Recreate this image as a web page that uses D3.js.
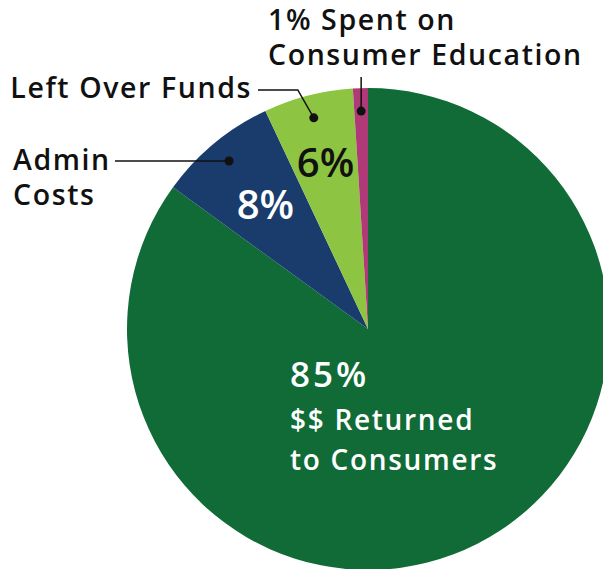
<!DOCTYPE html>
<html>
<head>
<meta charset="utf-8">
<script src="https://cdn.jsdelivr.net/npm/d3@7"></script>
<style>
    body { margin: 0; background: #fff; }
    text { font-family: "Open Sans", "Noto Sans", sans-serif; font-weight: 600; }
</style>
</head>
<body>
<div id="chart"></div>
<script>
// slices, clockwise from 12 o'clock
var categories = ['Returned to Consumers', 'Admin Costs', 'Left Over Funds', 'Consumer Education']
var values = [85, 8, 6, 1]
var colors = ['#106b37', '#1a3c6c', '#8dc543', '#b03a77']
var pctLabels = ['85%', '8%', '6%', '1%']

var W = 603, H = 569
var cx = 368, cy = 329, R = 241

var svg = d3.select('#chart').append('svg')
    .attr('width', W).attr('height', H)

var data = categories.map((c, i) => ({ cat: c, v: values[i], color: colors[i], pct: pctLabels[i] }))

var pie = d3.pie().sort(null).value(d => d.v)
var arcs = pie(data)
var arc = d3.arc().innerRadius(0).outerRadius(R)

var g = svg.append('g').attr('transform', 'translate(' + cx + ',' + cy + ')')

g.selectAll('path.slice')
    .data(arcs)
    .enter().append('path')
    .attr('class', 'slice')
    .attr('d', arc)
    .attr('fill', d => d.data.color)

// point on a slice's middle angle at radius r
function mid(d, r) {
    var a = (d.startAngle + d.endAngle) / 2
    return [Math.sin(a) * r, -Math.cos(a) * r]
}

// percent labels inside the small slices
var inside = [
    { i: 1, r: 161, fill: '#fff' },
    { i: 2, r: 171, fill: '#111' }
]
inside.forEach(o => {
    var p = mid(arcs[o.i], o.r)
    g.append('text')
        .attr('x', p[0]).attr('y', p[1] + 14)
        .attr('text-anchor', 'middle')
        .attr('font-size', 40)
        .attr('fill', o.fill)
        .text(arcs[o.i].data.pct)
})

// big slice label
var big = g.append('text').attr('fill', '#fff')
big.append('tspan').attr('x', -78).attr('y', 58).attr('font-size', 35).attr('letter-spacing', 3).text(pctLabels[0])
big.append('tspan').attr('x', -78).attr('y', 101).attr('font-size', 28).attr('letter-spacing', 1.7).text('$$ Returned')
big.append('tspan').attr('x', -78).attr('y', 141).attr('font-size', 28).attr('letter-spacing', 1.7).text('to Consumers')

// callouts: dot on slice, leader line to outside text
var dotR = 218
var callouts = [
    { i: 1, lines: ['Admin', 'Costs'], pts: d => [[-253, d[1]]], tx: -355, ty: -159, lh: 35, anchor: 'start' },
    { i: 2, lines: ['Left Over Funds'], pts: d => [[d[0] - 16, -239], [-110, -239]], tx: -116, ty: -231, lh: 0, anchor: 'end' },
    { i: 3, lines: ['1% Spent on', 'Consumer Education'], pts: d => [[d[0], -252]], tx: -100, ty: -299, lh: 35, anchor: 'start' }
]
callouts.forEach(c => {
    var d = mid(arcs[c.i], dotR)
    var line = [d].concat(c.pts(d))
    g.append('path')
        .attr('d', d3.line()(line))
        .attr('fill', 'none')
        .attr('stroke', '#111')
        .attr('stroke-width', 1.5)
    g.append('circle')
        .attr('cx', d[0]).attr('cy', d[1]).attr('r', 4.5)
        .attr('fill', '#111')
    var t = g.append('text').attr('fill', '#111')
        .attr('font-size', 28.5)
        .attr('letter-spacing', 1.6)
        .attr('text-anchor', c.anchor)
    c.lines.forEach((l, k) => {
        t.append('tspan').attr('x', c.tx).attr('y', c.ty + k * c.lh).text(l)
    })
})
</script>
</body>
</html>
